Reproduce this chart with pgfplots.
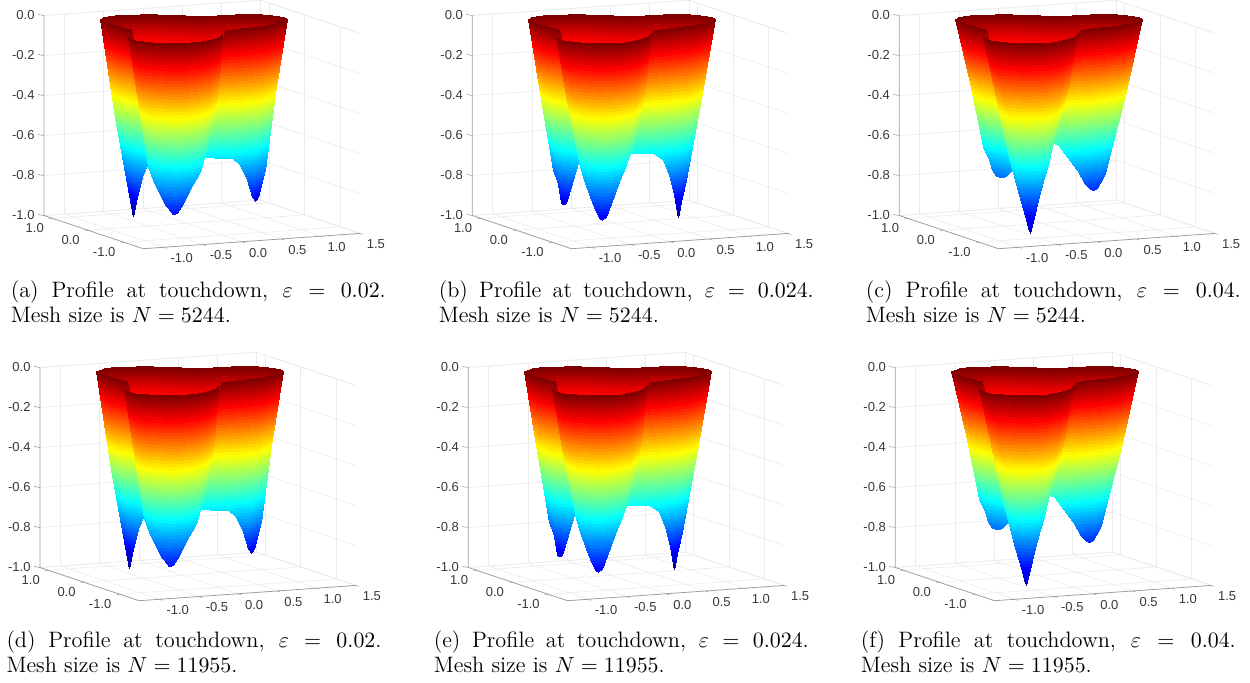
\documentclass[border=0pt]{standalone}
\usepackage{fontspec}
\usepackage{pgfplots}
\usepackage{pgfplotstable}
\pgfplotsset{compat=1.18}
\newfontfamily\ticksans{Liberation Sans}

\definecolor{gridc}{gray}{0.92}
\definecolor{axisc}{gray}{0.62}
\definecolor{labc}{gray}{0.22}

% jet in 64 steps, like the matlab figure
\pgfplotsset{
  colormap={jet}{rgb255(0)=(0,0,128) rgb255(1)=(0,0,255) rgb255(3)=(0,255,255)
                 rgb255(5)=(255,255,0) rgb255(7)=(255,0,0) rgb255(8)=(128,0,0)},
  colormap={jet64}{samples of colormap={64 of jet}},
}

% inner side of the far rim, same in all panels
\pgfplotstableread{
x y z
-0.832 1.017 0
-0.703 0.956 -0.15
-0.757 1.096 0
-0.682 1.061 -0.15
-0.660 1.166 0
-0.660 1.166 -0.15
-0.556 1.207 0
-0.556 1.207 -0.15
-0.425 1.198 0
-0.425 1.198 -0.15
-0.249 1.160 0
-0.249 1.160 -0.15
-0.063 1.082 0
-0.063 1.082 -0.15
0.078 0.964 0
0.078 0.964 -0.15
0.188 0.832 0
0.188 0.832 -0.15
0.279 0.746 0
0.279 0.746 -0.15
0.392 0.711 0
0.392 0.711 -0.15
0.547 0.710 0
0.547 0.710 -0.15
0.766 0.677 0
0.766 0.677 -0.15
0.934 0.617 0
0.934 0.617 -0.15
1.053 0.535 0
1.053 0.535 -0.15
1.130 0.419 0
1.130 0.419 -0.15
1.173 0.310 0
1.173 0.310 -0.15
1.183 0.191 0
1.108 0.226 -0.15
1.173 0.080 0
1.046 0.140 -0.15
}\backwall

% epsilon = 0.02
\pgfplotstableread{
x y z
-0.838 1.002 0
-0.677 0.927 -0.495
-0.484 0.837 -0.99
-0.875 0.577 0
-0.742 0.514 -0.4325
-0.610 0.453 -0.865
-0.854 0.390 0
-0.738 0.336 -0.3775
-0.622 0.281 -0.755
-0.847 0.236 0
-0.729 0.181 -0.338
-0.611 0.126 -0.6765
-0.836 0.116 0
-0.686 0.046 -0.3275
-0.536 -0.024 -0.655
}\leftA
\pgfplotstableread{
x y z
0.134 -0.426 0
-0.021 -0.353 -0.3175
-0.182 -0.278 -0.635
0.365 -0.356 0
0.328 -0.339 -0.3275
0.291 -0.322 -0.655
0.506 -0.333 0
0.452 -0.308 -0.345
0.399 -0.283 -0.69
0.625 -0.301 0
0.563 -0.272 -0.385
0.504 -0.244 -0.77
0.743 -0.267 0
0.666 -0.231 -0.429
0.589 -0.195 -0.8585
0.895 -0.161 0
0.788 -0.111 -0.446
0.691 -0.066 -0.8925
1.025 -0.045 0
0.912 0.008 -0.439
0.792 0.064 -0.8785
1.166 0.066 0
1.038 0.126 -0.3775
0.925 0.179 -0.755
}\rightA
\pgfplotstableread{
x y z
-1.131 -0.454 0
-1.024 -0.504 -0.325
-0.916 -0.554 -0.65
-1.138 -0.673 0
-1.042 -0.717 -0.351
-0.945 -0.763 -0.7025
-1.118 -0.859 0
-1.027 -0.901 -0.384
-0.936 -0.944 -0.7675
-1.055 -0.976 0
-0.980 -1.011 -0.409
-0.905 -1.046 -0.8175
-0.931 -1.078 0
-0.902 -1.092 -0.4225
-0.872 -1.106 -0.845
-0.835 -1.150 0
-0.844 -1.146 -0.429
-0.851 -1.143 -0.8585
-0.717 -1.178 0
-0.760 -1.158 -0.425
-0.803 -1.138 -0.85
-0.637 -1.172 0
-0.690 -1.147 -0.4125
-0.744 -1.122 -0.825
-0.556 -1.165 0
-0.613 -1.139 -0.3875
-0.669 -1.113 -0.775
-0.400 -1.105 0
-0.475 -1.070 -0.359
-0.550 -1.035 -0.7175
-0.248 -0.999 0
-0.328 -0.962 -0.334
-0.408 -0.924 -0.6675
-0.113 -0.841 0
-0.188 -0.806 -0.2875
-0.263 -0.771 -0.575
0.018 -0.636 0
-0.035 -0.612 -0.2925
-0.153 -0.557 -0.585
}\frontA

% epsilon = 0.024
\pgfplotstableread{
x y z
-0.838 1.002 0
-0.708 0.942 -0.3775
-0.570 0.877 -0.755
-0.874 0.753 0
-0.745 0.693 -0.4375
-0.563 0.608 -0.875
-0.874 0.665 0
-0.745 0.605 -0.45
-0.622 0.547 -0.90
-0.875 0.577 0
-0.751 0.519 -0.4525
-0.628 0.461 -0.905
-0.865 0.484 0
-0.747 0.429 -0.445
-0.635 0.377 -0.89
-0.854 0.390 0
-0.747 0.340 -0.4275
-0.640 0.290 -0.855
-0.847 0.236 0
-0.718 0.176 -0.338
-0.590 0.117 -0.6765
-0.836 0.116 0
-0.681 0.044 -0.3275
-0.525 -0.029 -0.655
}\leftB
\pgfplotstableread{
x y z
0.134 -0.426 0
-0.021 -0.353 -0.3075
-0.182 -0.278 -0.615
0.365 -0.356 0
0.285 -0.319 -0.3125
0.205 -0.282 -0.625
0.484 -0.323 0
0.415 -0.291 -0.3325
0.345 -0.258 -0.665
0.603 -0.291 0
0.523 -0.253 -0.3725
0.443 -0.216 -0.745
0.721 -0.257 0
0.625 -0.212 -0.425
0.528 -0.167 -0.85
0.895 -0.161 0
0.766 -0.101 -0.4875
0.638 -0.041 -0.975
1.025 -0.045 0
0.880 0.023 -0.4525
0.735 0.091 -0.905
1.166 0.066 0
1.013 0.138 -0.4025
0.855 0.212 -0.805
}\rightB
\pgfplotstableread{
x y z
-1.131 -0.454 0
-1.013 -0.509 -0.325
-0.877 -0.572 -0.65
-1.138 -0.673 0
-1.026 -0.725 -0.351
-0.913 -0.778 -0.7025
-1.118 -0.859 0
-1.016 -0.907 -0.389
-0.914 -0.954 -0.7775
-1.055 -0.976 0
-0.969 -1.016 -0.424
-0.883 -1.057 -0.8475
-0.931 -1.078 0
-0.894 -1.096 -0.44
-0.856 -1.113 -0.88
-0.835 -1.150 0
-0.840 -1.148 -0.443
-0.846 -1.145 -0.886
-0.717 -1.178 0
-0.760 -1.158 -0.435
-0.798 -1.140 -0.87
-0.556 -1.165 0
-0.631 -1.130 -0.405
-0.706 -1.095 -0.81
-0.400 -1.105 0
-0.486 -1.065 -0.354
-0.571 -1.025 -0.7075
-0.248 -0.999 0
-0.339 -0.957 -0.316
-0.430 -0.914 -0.6325
-0.113 -0.841 0
-0.198 -0.802 -0.2875
-0.295 -0.756 -0.575
0.018 -0.636 0
-0.046 -0.607 -0.2925
-0.185 -0.542 -0.585
}\frontB

% epsilon = 0.04
\pgfplotstableread{
x y z
-0.838 1.002 0
-0.677 0.927 -0.32
-0.538 0.862 -0.64
-0.857 0.878 0
-0.690 0.800 -0.349
-0.524 0.723 -0.6975
-0.874 0.753 0
-0.702 0.673 -0.37
-0.548 0.601 -0.74
-0.874 0.665 0
-0.697 0.582 -0.3825
-0.530 0.505 -0.765
-0.875 0.577 0
-0.692 0.491 -0.385
-0.510 0.406 -0.77
-0.865 0.484 0
-0.677 0.396 -0.3775
-0.490 0.309 -0.755
-0.854 0.390 0
-0.672 0.305 -0.365
-0.482 0.216 -0.73
-0.847 0.236 0
-0.686 0.161 -0.348
-0.504 0.076 -0.6965
-0.836 0.116 0
-0.665 0.037 -0.3275
-0.472 -0.054 -0.655
}\leftC
\pgfplotstableread{
x y z
0.134 -0.426 0
-0.054 -0.338 -0.275
-0.236 -0.253 -0.55
0.312 -0.332 0
0.140 -0.251 -0.2925
-0.031 -0.172 -0.585
0.452 -0.308 0
0.275 -0.225 -0.325
0.099 -0.143 -0.65
0.603 -0.291 0
0.418 -0.204 -0.36
0.233 -0.118 -0.72
0.721 -0.257 0
0.539 -0.172 -0.3975
0.357 -0.087 -0.795
0.771 -0.236 0
0.594 -0.153 -0.41
0.418 -0.071 -0.82
0.819 -0.214 0
0.647 -0.134 -0.4175
0.476 -0.054 -0.835
0.895 -0.161 0
0.723 -0.081 -0.414
0.552 -0.001 -0.8275
0.970 -0.108 0
0.793 -0.025 -0.4025
0.616 0.057 -0.805
1.166 0.066 0
0.984 0.151 -0.385
0.766 0.253 -0.77
}\rightC
\pgfplotstableread{
x y z
-1.131 -0.454 0
-1.006 -0.512 -0.2825
-0.880 -0.571 -0.565
-1.138 -0.673 0
-1.015 -0.730 -0.335
-0.892 -0.787 -0.67
-1.118 -0.859 0
-1.005 -0.912 -0.385
-0.893 -0.964 -0.77
-1.055 -0.976 0
-0.958 -1.022 -0.434
-0.862 -1.066 -0.8675
-0.931 -1.078 0
-0.883 -1.101 -0.47
-0.833 -1.124 -0.94
-0.835 -1.150 0
-0.835 -1.150 -0.4755
-0.835 -1.150 -0.951
-0.717 -1.178 0
-0.754 -1.161 -0.4475
-0.792 -1.143 -0.895
-0.556 -1.165 0
-0.631 -1.130 -0.395
-0.706 -1.095 -0.79
-0.400 -1.105 0
-0.496 -1.060 -0.344
-0.593 -1.015 -0.6875
-0.248 -0.999 0
-0.365 -0.945 -0.316
-0.483 -0.889 -0.6325
-0.113 -0.841 0
-0.236 -0.784 -0.2875
-0.370 -0.721 -0.575
0.018 -0.636 0
-0.094 -0.584 -0.275
-0.250 -0.511 -0.55
}\frontC

\pgfplotsset{
  wall/.style={surf,shader=interp,point meta=z,mesh/cols=3,forget plot},
  boxaxis/.style={
    anchor=origin,
    x={(39.25pt,2.77pt)},y={(-17.9pt,6pt)},z={(0pt,100pt)},
    xmin=-1.26,xmax=1.5,ymin=-1.54,ymax=1.23,zmin=-1,zmax=0,
    clip=false,
    grid=major,grid style={gridc,line width=0.3pt},
    axis line style={draw=none},
    3d box=background,
    major tick length=0pt,
    xtick={-1,-0.5,0,0.5,1,1.5},xticklabels={-1.0,-0.5,0.0,0.5,1.0,1.5},
    ytick={-1,0,1},yticklabels={-1.0,0.0,1.0},
    ztick={-1,-0.8,-0.6,-0.4,-0.2,0},zticklabels={-1.0,-0.8,-0.6,-0.4,-0.2,0.0},
    ticklabel style={font=\ticksans\fontsize{6.5}{7}\selectfont,text=labc},
    xticklabel style={anchor=west,inner sep=0pt,xshift=3.3pt,yshift=-5.4pt},
    yticklabel style={anchor=east,inner sep=0pt,xshift=-4pt,yshift=-4.7pt},
    zticklabel style={anchor=east,inner sep=0pt,xshift=-4.5pt},
  },
  surfaxis/.style={
    anchor=origin,hide axis,
    x={(38.55pt,2.64pt)},y={(-17.35pt,5.65pt)},z={(0pt,100pt)},
    xmin=-1.34,xmax=1.5,ymin=-1.33,ymax=1.5,zmin=-1,zmax=0,
    point meta min=-1,point meta max=0,
    colormap name=jet64,colormap access=piecewise constant,
    clip=false,
  },
}

% #1,#2 origin of the surface, #3 #4 #5 left, right and front walls
\newcommand\surfpanel[5]{%
  \begin{axis}[boxaxis,at={(#1pt-6.25pt,#2pt+1.31pt)}]
    % light edges of the back planes
    \draw[gridc,line width=0.3pt] (axis cs:-1.26,1.23,-1)--(axis cs:1.5,1.23,-1)--(axis cs:1.5,-1.54,-1);
    \draw[gridc,line width=0.3pt] (axis cs:-1.26,1.23,0)--(axis cs:1.5,1.23,0)--(axis cs:1.5,-1.42,0);
    \draw[gridc,line width=0.3pt] (axis cs:1.5,1.23,-1)--(axis cs:1.5,1.23,0);
    % the three axis lines that carry ticks
    \draw[axisc,line width=0.4pt] (axis cs:-1.26,1.23,0)--(axis cs:-1.26,1.23,-1)
      --(axis cs:-1.26,-1.54,-1)--(axis cs:1.5,-1.54,-1);
    \pgfplotsinvokeforeach{-1,-0.8,-0.6,-0.4,-0.2,0}{
      \draw[axisc,line width=0.3pt] (axis cs:-1.26,1.23,##1)--++(-3pt,0.5pt);}
    \pgfplotsinvokeforeach{-1,-0.5,0,0.5,1,1.5}{
      \draw[axisc,line width=0.3pt] (axis cs:##1,-1.54,-1)--++(1.5pt,-0.5pt);}
    \pgfplotsinvokeforeach{-1,0,1}{
      \draw[axisc,line width=0.3pt] (axis cs:-1.26,##1,-1)--++(-1.5pt,-0.1pt);}
  \end{axis}
  \begin{axis}[surfaxis,at={(#1pt,#2pt)}]
    \addplot3[wall,mesh/cols=2] table[x=x,y=y,z=z] {\backwall};
    \addplot3[wall] table[x=x,y=y,z=z] {#4};
    \addplot3[wall] table[x=x,y=y,z=z] {#3};
    \addplot3[wall] table[x=x,y=y,z=z] {#5};
  \end{axis}}

\newcommand\subcap[5]{%
  \node[anchor=base west,inner sep=0pt] at (#1pt,#2pt)
    {\fontsize{11.15}{12.3}\selectfont\makebox[187.5pt][s]{(#3) Profile at touchdown, $\varepsilon = #4$.}};
  \node[anchor=base west,inner sep=0pt] at (#1pt,#2pt-12.3pt)
    {\fontsize{11.15}{12.3}\selectfont Mesh size is $N = #5$.};}

\begin{document}
\begin{tikzpicture}
  \path[use as bounding box] (0pt,0pt) rectangle (625pt,341.5pt);
  \surfpanel{99.7}{328.55}{\leftA}{\rightA}{\frontA}
  \surfpanel{313.85}{328.55}{\leftB}{\rightB}{\frontB}
  \surfpanel{527.35}{328.55}{\leftC}{\rightC}{\frontC}
  \surfpanel{97.7}{152.55}{\leftA}{\rightA}{\frontA}
  \surfpanel{311.85}{152.55}{\leftB}{\rightB}{\frontB}
  \surfpanel{525.35}{152.55}{\leftC}{\rightC}{\frontC}
  \subcap{5.2}{192.5}{a}{0.02}{5244}
  \subcap{219.2}{192.5}{b}{0.024}{5244}
  \subcap{432.7}{192.5}{c}{0.04}{5244}
  \subcap{3.05}{17.5}{d}{0.02}{11955}
  \subcap{216.7}{17.5}{e}{0.024}{11955}
  \subcap{430.2}{17.5}{f}{0.04}{11955}
\end{tikzpicture}
\end{document}
